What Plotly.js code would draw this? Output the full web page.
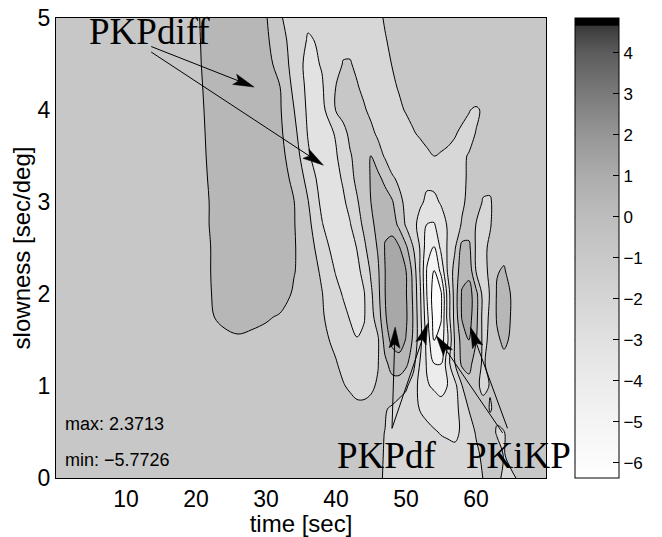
<!DOCTYPE html>
<html><head><meta charset="utf-8">
<script src="https://cdn.plot.ly/plotly-3.0.1.min.js"></script>
<style>html,body{margin:0;padding:0;background:#fff;}#plot{width:662px;height:537px;}</style>
</head><body><div id="plot"></div>
<script>
// ---- data ----
const timeSec = [0,12,18,20,22,24,26,28,30,32,34,36,38,40,41,42,43,44,45,46,47,48,49,50,51,52,53,54,55,56,57,58,59,60,61,62,63,64,65,66,67,68,70];
const slowness = [0,0.25,0.5,0.75,1,1.25,1.5,1.75,2,2.25,2.5,2.75,3,3.25,3.5,3.75,4,4.25,4.5,4.75,5];
const amplitude = [
 [-0.35,-0.37,-0.38,-0.38,-0.38,-0.39,-0.39,-0.39,-0.4,-0.43,-0.45,-0.48,-0.5,-0.55,-0.58,-0.6,-0.63,-0.65,-0.79,-0.93,-1.04,-1.12,-1.2,-1.27,-1.33,-1.4,-1.45,-1.5,-1.55,-1.57,-1.58,-1.6,-1.45,-1.3,-0.99,-0.8,-0.94,-1.05,-1.07,-0.97,-0.66,-0.48,-0.38],
 [-0.35,-0.37,-0.38,-0.38,-0.38,-0.39,-0.39,-0.39,-0.4,-0.43,-0.45,-0.48,-0.5,-0.55,-0.58,-0.6,-0.63,-0.65,-0.78,-0.91,-1.03,-1.14,-1.25,-1.33,-1.42,-1.5,-1.57,-1.63,-1.7,-1.73,-1.77,-1.8,-1.59,-1.17,-0.85,-0.78,-0.85,-1.02,-0.89,-0.6,-0.46,-0.4,-0.38],
 [-0.35,-0.37,-0.38,-0.38,-0.38,-0.39,-0.39,-0.39,-0.4,-0.44,-0.48,-0.51,-0.55,-0.6,-0.63,-0.65,-0.68,-0.7,-0.8,-0.9,-1.01,-1.15,-1.3,-1.43,-1.57,-1.7,-1.82,-1.93,-2.05,-2.12,-2.18,-1.88,-1.38,-0.93,-0.7,-0.83,-1.04,-1.02,-0.7,-0.5,-0.4,-0.39,-0.38],
 [-0.35,-0.37,-0.38,-0.38,-0.38,-0.39,-0.39,-0.39,-0.4,-0.45,-0.5,-0.55,-0.6,-0.7,-0.74,-0.79,-0.83,-0.84,-0.82,-0.8,-0.93,-1.13,-1.4,-1.6,-1.8,-2.03,-2.2,-2.38,-2.53,-2.48,-2.25,-1.72,-0.96,-0.6,-0.77,-1.03,-0.9,-0.63,-0.47,-0.4,-0.39,-0.39,-0.38],
 [-0.35,-0.37,-0.38,-0.38,-0.39,-0.39,-0.39,-0.4,-0.4,-0.47,-0.53,-0.6,-0.75,-0.89,-0.96,-1.08,-1.24,-1.23,-1.1,-0.92,-0.5,-0.35,-0.52,-0.83,-1.5,-2.3,-2.9,-3.15,-3.4,-2.95,-2.3,-1.03,-0.46,-0.85,-1.16,-0.97,-0.55,-0.43,-0.4,-0.39,-0.39,-0.38,-0.38],
 [-0.35,-0.32,-0.3,-0.31,-0.32,-0.33,-0.33,-0.34,-0.35,-0.43,-0.52,-0.6,-0.79,-0.97,-1.14,-1.34,-1.54,-1.46,-1.25,-1.04,-0.2,0.35,0.62,0.23,-0.57,-2.05,-3.13,-4.02,-4.05,-2.33,-0.97,0.22,0.42,-0.6,-1.11,-0.75,-0.42,-0.25,-0.33,-0.4,-0.4,-0.39,-0.38],
 [-0.35,-0.32,-0.3,-0.23,-0.17,-0.1,-0.08,-0.19,-0.3,-0.42,-0.54,-0.69,-0.86,-1.13,-1.44,-1.72,-1.95,-1.8,-1.52,-1.12,0.4,1.3,1.46,0.95,-0.14,-1.57,-3.4,-5.02,-4.55,-3.05,-0.83,0.4,1.02,0.08,-1.21,-0.86,-0.14,0.17,-0.11,-0.4,-0.4,-0.39,-0.38],
 [-0.35,-0.32,-0.3,-0.17,-0.04,0.09,0.23,0.23,0.1,-0.09,-0.43,-0.71,-0.92,-1.4,-1.73,-2.06,-2.34,-2.08,-1.33,-0.5,0.83,1.82,1.95,1.17,-0.03,-1.67,-3.75,-5.38,-5.13,-2.5,-0.6,1.1,1.4,0.33,-1.3,-0.9,0.1,0.41,-0.04,-0.4,-0.4,-0.39,-0.38],
 [-0.35,-0.32,-0.3,-0.16,-0.02,0.16,0.36,0.55,0.5,0.45,-0.13,-0.67,-0.97,-1.69,-2.07,-2.42,-2.42,-2.07,-1.16,-0.27,0.97,1.87,1.89,1.08,-0.14,-1.8,-4.05,-5.51,-5.17,-2.5,-0.5,1.12,1.48,0.33,-1.3,-0.97,0.1,0.41,-0.04,-0.4,-0.4,-0.39,-0.38],
 [-0.35,-0.32,-0.3,-0.16,-0.01,0.19,0.39,0.6,0.55,0.5,0.05,-0.51,-1.14,-2.09,-2.56,-2.62,-2.25,-1.7,-0.86,-0.14,0.98,1.71,1.63,1.02,-0.29,-2.05,-4.12,-5.08,-3.75,-1.8,-0.6,0.59,0.66,-1.03,-1.38,-0.78,-0.05,0.08,-0.31,-0.44,-0.42,-0.41,-0.38],
 [-0.35,-0.32,-0.3,-0.15,-0.01,0.19,0.4,0.6,0.55,0.5,0.08,-0.57,-1.47,-2.49,-2.77,-2.39,-1.97,-1.2,-0.53,0.09,1.05,1.5,1.12,0.22,-0.95,-2.05,-3.58,-4.11,-2.8,-1.85,-1.08,0.35,0.23,-1.13,-1.24,-0.83,-0.41,-0.26,-0.39,-0.44,-0.43,-0.41,-0.38],
 [-0.35,-0.32,-0.3,-0.15,0.01,0.22,0.44,0.59,0.56,0.5,0.05,-0.72,-1.93,-2.85,-2.46,-2.08,-1.4,-0.82,-0.24,0.32,0.86,0.54,-0.2,-1.12,-1.71,-2.3,-3.05,-3.1,-2.42,-1.9,-1.4,-0.92,-0.5,-1.02,-1.25,-1.08,-0.53,-0.25,-0.35,-0.4,-0.39,-0.39,-0.38],
 [-0.35,-0.32,-0.3,-0.15,0.01,0.25,0.48,0.58,0.53,0.4,0.02,-0.95,-2.25,-2.55,-2.18,-1.67,-1.1,-0.56,0.01,0.44,0.54,0.12,-0.7,-1.25,-1.6,-1.87,-2.14,-2.19,-1.92,-1.64,-1.38,-1.13,-0.8,-0.75,-1.04,-1.06,-0.77,-0.45,-0.43,-0.4,-0.38,-0.38,-0.38],
 [-0.35,-0.32,-0.3,-0.14,0.03,0.26,0.49,0.58,0.53,0.31,-0.16,-1.33,-2.48,-2.32,-1.88,-1.29,-0.79,-0.36,0.06,0.29,-0.27,-0.83,-1.19,-1.46,-1.68,-1.83,-1.85,-1.75,-1.61,-1.44,-1.27,-1.1,-0.93,-0.75,-0.84,-0.84,-0.68,-0.56,-0.48,-0.4,-0.4,-0.39,-0.38],
 [-0.35,-0.32,-0.3,-0.13,0.05,0.29,0.54,0.56,0.51,0.24,-0.4,-1.85,-2.72,-2.11,-1.51,-1.09,-0.71,-0.29,0.03,-0.6,-1.1,-1.6,-1.73,-1.73,-1.6,-1.4,-1.17,-0.99,-1.06,-1.13,-1.2,-1.09,-0.96,-0.79,-0.65,-0.55,-0.45,-0.44,-0.43,-0.42,-0.41,-0.4,-0.38],
 [-0.35,-0.32,-0.3,-0.13,0.07,0.33,0.6,0.55,0.5,0.17,-0.71,-2.07,-2.63,-1.88,-1.3,-0.79,-0.36,-0.36,-0.79,-1.17,-1.5,-1.6,-1.57,-1.4,-1.07,-0.87,-0.7,-0.72,-0.74,-0.82,-0.95,-1.12,-1.19,-0.98,-0.79,-0.6,-0.57,-0.55,-0.52,-0.49,-0.46,-0.43,-0.38],
 [-0.35,-0.32,-0.3,-0.12,0.09,0.34,0.6,0.53,0.45,0.09,-0.98,-2.18,-2.3,-0.94,-0.66,-0.38,-0.55,-0.9,-1.21,-1.5,-1.7,-1.51,-1.19,-0.92,-0.76,-0.6,-0.6,-0.6,-0.6,-0.6,-0.7,-0.8,-0.97,-1.11,-0.9,-0.7,-0.5,-0.48,-0.46,-0.44,-0.42,-0.4,-0.38],
 [-0.35,-0.32,-0.3,-0.11,0.12,0.4,0.58,0.51,0.36,0.01,-1.25,-2.25,-2.1,-0.98,-0.72,-0.57,-0.93,-1.2,-1.45,-1.57,-1.45,-1.18,-0.92,-0.76,-0.6,-0.55,-0.5,-0.45,-0.4,-0.39,-0.39,-0.38,-0.38,-0.38,-0.38,-0.38,-0.38,-0.38,-0.38,-0.38,-0.38,-0.38,-0.38],
 [-0.35,-0.32,-0.3,-0.09,0.15,0.42,0.53,0.48,0.27,-0.29,-1.44,-2.31,-1.93,-1.26,-0.97,-0.94,-1.17,-1.39,-1.47,-1.4,-1.19,-0.98,-0.83,-0.68,-0.57,-0.51,-0.46,-0.4,-0.39,-0.39,-0.38,-0.38,-0.38,-0.38,-0.38,-0.38,-0.38,-0.38,-0.38,-0.38,-0.38,-0.38,-0.38],
 [-0.35,-0.32,-0.3,-0.08,0.17,0.42,0.52,0.46,0.18,-0.59,-1.43,-2.08,-1.9,-1.38,-1.15,-1.23,-1.3,-1.3,-1.3,-1.17,-1.04,-0.9,-0.75,-0.6,-0.53,-0.47,-0.4,-0.39,-0.39,-0.39,-0.38,-0.38,-0.38,-0.38,-0.38,-0.38,-0.38,-0.38,-0.38,-0.38,-0.38,-0.38,-0.38],
 [-0.35,-0.32,-0.3,-0.06,0.17,0.39,0.48,0.45,0.08,-0.89,-1.5,-1.85,-1.8,-1.6,-1.5,-1.4,-1.35,-1.3,-1.23,-1.12,-0.95,-0.77,-0.6,-0.53,-0.47,-0.4,-0.4,-0.39,-0.39,-0.39,-0.38,-0.38,-0.38,-0.38,-0.38,-0.38,-0.38,-0.38,-0.38,-0.38,-0.38,-0.38,-0.38]
];
const levelStart = -5, levelEnd = 2, levelStep = 1;
// grey of each filled band: below -5, -5..-4, ..., 1..2, above 2
const bandGrays = [252, 244, 236, 226, 215, 199, 183, 168, 150];
// colour bar (full colour map range)
const cbMin = -6.37, cbMax = 4.85;
const cbValues = [-6.37, -6, -5, -4, -3, -2, -1, 0, 1, 2, 3, 4, 4.5, 4.66, 4.67, 4.85];
const cbGrays  = [255, 252, 244, 235, 225, 213, 201, 189, 172, 150, 122, 92, 66, 55, 0, 0];
const cbTicks = [-6, -5, -4, -3, -2, -1, 0, 1, 2, 3, 4];
const xTicks = [10, 20, 30, 40, 50, 60];
const yTicks = [0, 1, 2, 3, 4, 5];
const statText = ['max: 2.3713', 'min: \u22125.7726'];
const phaseNames = ['PKPdiff', 'PKPdf', 'PKiKP'];
// arrows [tail time, tail slowness, tip time, tip slowness]
const arrows = [
  [13.6, 4.69, 28.3, 4.25],
  [13.6, 4.63, 38.2, 3.40],
  [48.0, 0.54, 48.45, 1.64],
  [48.0, 0.54, 53.1, 1.68],
  [63.8, 0.49, 54.3, 1.55],
  [64.5, 0.54, 59.2, 1.64]
];

// ---- build ----
const g = v => 'rgb(' + v + ',' + v + ',' + v + ')';
const bandScale = bandGrays.map((v, i) => [i / (bandGrays.length - 1), g(v)]);
const cbScale = cbValues.map((v, i) => [(v - cbMin) / (cbMax - cbMin), g(cbGrays[i])]);

const sans = 'Liberation Sans, Arial, Helvetica, sans-serif';
const serif = 'Liberation Serif, Times New Roman, serif';

const L = 56, R = 113, T = 18, B = 59, W = 662, H = 537;
const pw = W - L - R, ph = H - T - B;
const xr = [0, 70], yr = [0, 5];
const ppx = pw / (xr[1] - xr[0]), ppy = ph / (yr[1] - yr[0]);
const cbLeft = (578 - L) / pw, cbThick = 44;

const traces = [
  {
    type: 'contour', x: timeSec, y: slowness, z: amplitude,
    autocontour: false,
    contours: {start: levelStart, end: levelEnd, size: levelStep, coloring: 'fill', showlines: true},
    line: {color: '#000', width: 1, smoothing: 1},
    colorscale: bandScale, showscale: false, hoverinfo: 'skip'
  },
  {
    type: 'heatmap', x: [200, 201], y: [1, 2], z: [[cbMin, cbMax], [cbMin, cbMax]],
    zmin: cbMin, zmax: cbMax, colorscale: cbScale, hoverinfo: 'skip',
    colorbar: {
      x: cbLeft, xanchor: 'left', xref: 'paper', xpad: 0,
      y: 0.5, yanchor: 'middle', len: 1, lenmode: 'fraction', ypad: 0,
      thickness: cbThick, thicknessmode: 'pixels',
      outlinecolor: '#000', outlinewidth: 1,
      tickvals: cbTicks, ticks: 'inside', ticklen: 6, tickcolor: '#000',
      tickfont: {family: sans, size: 17, color: '#000'}
    }
  }
];

const shapes = [];
arrows.forEach(a => {
  const [t0, s0, t1, s1] = a;
  let dx = (t1 - t0) * ppx, dy = -(s1 - s0) * ppy;
  const len = Math.hypot(dx, dy); const ux = dx / len, uy = dy / len;
  const nx = -uy, ny = ux;
  const hl = 21, hw = 5.5, notch = 0.8;
  const toD = (ox, oy) => [t1 + ox / ppx, s1 - oy / ppy];
  const back = [-ux * hl, -uy * hl];
  const p1 = toD(back[0] + nx * hw, back[1] + ny * hw);
  const p2 = toD(-ux * hl * notch, -uy * hl * notch);
  const p3 = toD(back[0] - nx * hw, back[1] - ny * hw);
  shapes.push({type: 'line', xref: 'x', yref: 'y', x0: t0, y0: s0, x1: p2[0], y1: p2[1], line: {color: '#000', width: 1}});
  shapes.push({type: 'path', xref: 'x', yref: 'y',
    path: 'M' + t1 + ',' + s1 + 'L' + p1[0] + ',' + p1[1] + 'L' + p2[0] + ',' + p2[1] + 'L' + p3[0] + ',' + p3[1] + 'Z',
    fillcolor: '#000', line: {color: '#000', width: 0.5}});
});
// tick marks on the left inner edge of the colour bar (as in the original)
cbTicks.forEach(v => {
  const yp = (v - cbMin) / (cbMax - cbMin);
  shapes.push({type: 'line', xref: 'paper', yref: 'paper', x0: cbLeft, x1: cbLeft + 6 / pw, y0: yp, y1: yp, line: {color: '#000', width: 1}});
});

const annotations = [
  {text: statText[0], x: 1.0, y: 0.59, xref: 'x', yref: 'y', xanchor: 'left', yanchor: 'middle', showarrow: false, font: {family: sans, size: 18, color: '#000'}},
  {text: statText[1], x: 1.0, y: 0.2, xref: 'x', yref: 'y', xanchor: 'left', yanchor: 'middle', showarrow: false, font: {family: sans, size: 18, color: '#000'}},
  {text: phaseNames[0], x: 4.4, y: 4.85, xref: 'x', yref: 'y', xanchor: 'left', yanchor: 'middle', showarrow: false, font: {family: serif, size: 37, color: '#000'}},
  {text: phaseNames[1], x: 39.9, y: 0.25, xref: 'x', yref: 'y', xanchor: 'left', yanchor: 'middle', showarrow: false, font: {family: serif, size: 37, color: '#000'}},
  {text: phaseNames[2], x: 58.3, y: 0.25, xref: 'x', yref: 'y', xanchor: 'left', yanchor: 'middle', showarrow: false, font: {family: serif, size: 37, color: '#000'}}
];

const layout = {
  width: W, height: H, margin: {l: L, r: R, t: T, b: B, pad: 0},
  paper_bgcolor: '#fff', plot_bgcolor: '#fff', showlegend: false,
  xaxis: {range: xr, tickvals: xTicks, ticks: '', showgrid: false, zeroline: false,
    showline: true, mirror: true, linecolor: '#000', linewidth: 1,
    tickfont: {family: sans, size: 23, color: '#000'},
    title: {text: 'time [sec]', font: {family: sans, size: 24, color: '#000'}, standoff: 2}},
  yaxis: {range: yr, tickvals: yTicks, ticks: '', showgrid: false, zeroline: false,
    showline: true, mirror: true, linecolor: '#000', linewidth: 1,
    tickfont: {family: sans, size: 23, color: '#000'},
    title: {text: 'slowness [sec/deg]', font: {family: sans, size: 24, color: '#000'}, standoff: 0}},
  shapes: shapes, annotations: annotations
};

Plotly.newPlot('plot', traces, layout, {staticPlot: true, displayModeBar: false});
</script></body></html>
